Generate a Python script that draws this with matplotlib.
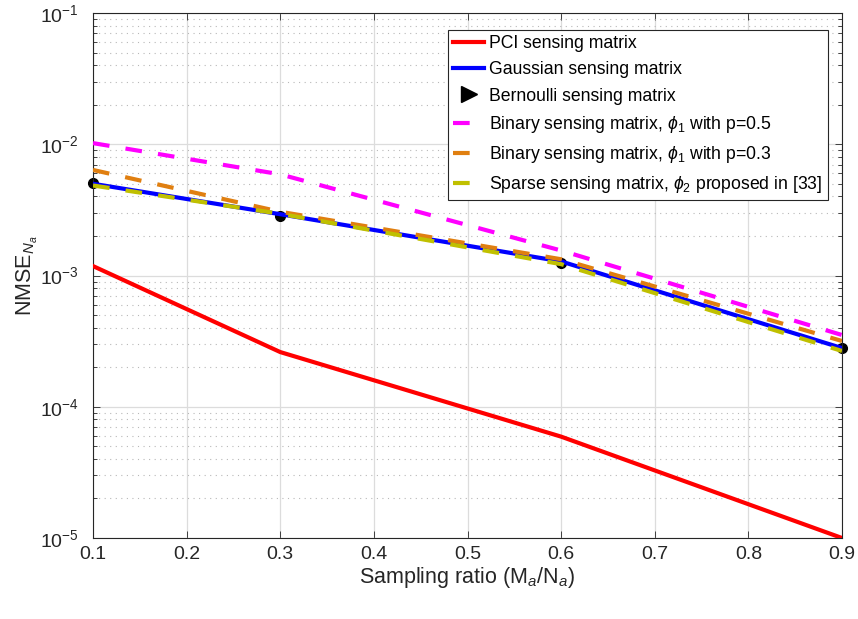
import matplotlib
matplotlib.use("Agg")
import matplotlib.pyplot as plt
from matplotlib.lines import Line2D
from matplotlib.ticker import LogLocator, NullFormatter, FixedLocator

plt.rcParams['font.family'] = ['Liberation Sans', 'DejaVu Sans']
plt.rcParams['mathtext.fontset'] = 'custom'
plt.rcParams['mathtext.rm'] = 'Liberation Sans'
plt.rcParams['mathtext.it'] = 'Liberation Sans:italic'
plt.rcParams['mathtext.bf'] = 'Liberation Sans:bold'

# Sampling ratios
ratio = [0.1, 0.3, 0.6, 0.9]

# NMSE per sensing matrix
nmse_pci = [1.18e-3, 2.61e-4, 5.92e-5, 1.0e-5]
nmse_gauss = [5.0e-3, 2.93e-3, 1.28e-3, 2.8e-4]
nmse_bern = [5.1e-3, 2.82e-3, 1.24e-3, 2.79e-4]
nmse_bin05 = [1.02e-2, 5.9e-3, 1.55e-3, 3.52e-4]
nmse_bin03 = [6.37e-3, 3.06e-3, 1.33e-3, 3.17e-4]
nmse_sparse = [4.85e-3, 2.95e-3, 1.22e-3, 2.66e-4]

labels = [
    "PCI sensing matrix",
    "Gaussian sensing matrix",
    "Bernoulli sensing matrix",
    r"Binary sensing matrix, $\phi_1$ with p=0.5",
    r"Binary sensing matrix, $\phi_1$ with p=0.3",
    r"Sparse sensing matrix, $\phi_2$ proposed in [33]",
]
colors = ["#ff0000", "#0000ff", "#000000", "#ff00ff", "#e07f10", "#c0c000"]

fig = plt.figure(figsize=(8.58, 6.19), dpi=100)
ax = fig.add_axes([93/858, 1-538/619, (842-93)/858, (538-13)/619])

lw = 3
dash = (4.0, 3.9)
ax.plot(ratio, nmse_bern, ls='none', marker='o', ms=7, color=colors[2],
        zorder=2, clip_on=False)
ax.plot(ratio, nmse_pci, color=colors[0], lw=lw, zorder=3)
ax.plot(ratio, nmse_gauss, color=colors[1], lw=lw, zorder=3)
for vals, c in zip([nmse_bin05, nmse_bin03, nmse_sparse], colors[3:]):
    ax.plot(ratio, vals, color=c, lw=lw, dashes=dash, dash_capstyle='butt', zorder=4)

ax.set_yscale('log')
ax.set_xlim(0.1, 0.9)
ax.set_ylim(1e-5, 1e-1)
ax.xaxis.set_major_locator(FixedLocator([0.1, 0.2, 0.3, 0.4, 0.5, 0.6, 0.7, 0.8, 0.9]))
ax.set_xticklabels(["0.1", "0.2", "0.3", "0.4", "0.5", "0.6", "0.7", "0.8", "0.9"])
ax.yaxis.set_major_locator(LogLocator(base=10, numticks=10))
ax.yaxis.set_minor_locator(LogLocator(base=10, subs=range(2, 10), numticks=20))
ax.yaxis.set_minor_formatter(NullFormatter())

ax.tick_params(which='both', direction='in', top=True, right=True,
               colors='#262626', labelcolor='#262626')
ax.tick_params(which='major', length=5, width=0.6, labelsize=14)
ax.tick_params(which='minor', length=3, width=0.6)
ax.tick_params(axis='x', which='major', pad=6)
ax.tick_params(axis='y', which='major', pad=10)

ax.grid(which='major', color='#dcdcdc', lw=0.9, ls='-')
ax.grid(which='minor', axis='y', color='#b8b8b8', lw=0.8, ls=(0, (1, 4)))
ax.set_axisbelow(True)
for s in ax.spines.values():
    s.set_color('#262626')
    s.set_linewidth(0.8)

ax.set_xlabel(r"Sampling ratio (M$_a$/N$_a$)", fontsize=15.5, color='#262626', labelpad=1)
ax.set_ylabel(r"NMSE$_{N_a}$", fontsize=15.5, color='#262626', labelpad=0)

handles = [
    Line2D([], [], color=colors[0], lw=lw),
    Line2D([], [], color=colors[1], lw=lw),
    Line2D([], [], ls='none', marker='>', ms=12, color=colors[2]),
    Line2D([], [], color=colors[3], lw=lw, dashes=dash, dash_capstyle='butt'),
    Line2D([], [], color=colors[4], lw=lw, dashes=dash, dash_capstyle='butt'),
    Line2D([], [], color=colors[5], lw=lw, dashes=dash, dash_capstyle='butt'),
]
leg = ax.legend(handles, labels, loc='upper right',
                bbox_to_anchor=((828-93)/749, (538-30)/525),
                fontsize=12.7, handlelength=1.75, handletextpad=0.3,
                borderpad=0.3, labelspacing=0.52, fancybox=False,
                framealpha=1, edgecolor='#262626', borderaxespad=0)
leg.get_frame().set_linewidth(0.8)

fig.savefig("out.png", dpi=100)
